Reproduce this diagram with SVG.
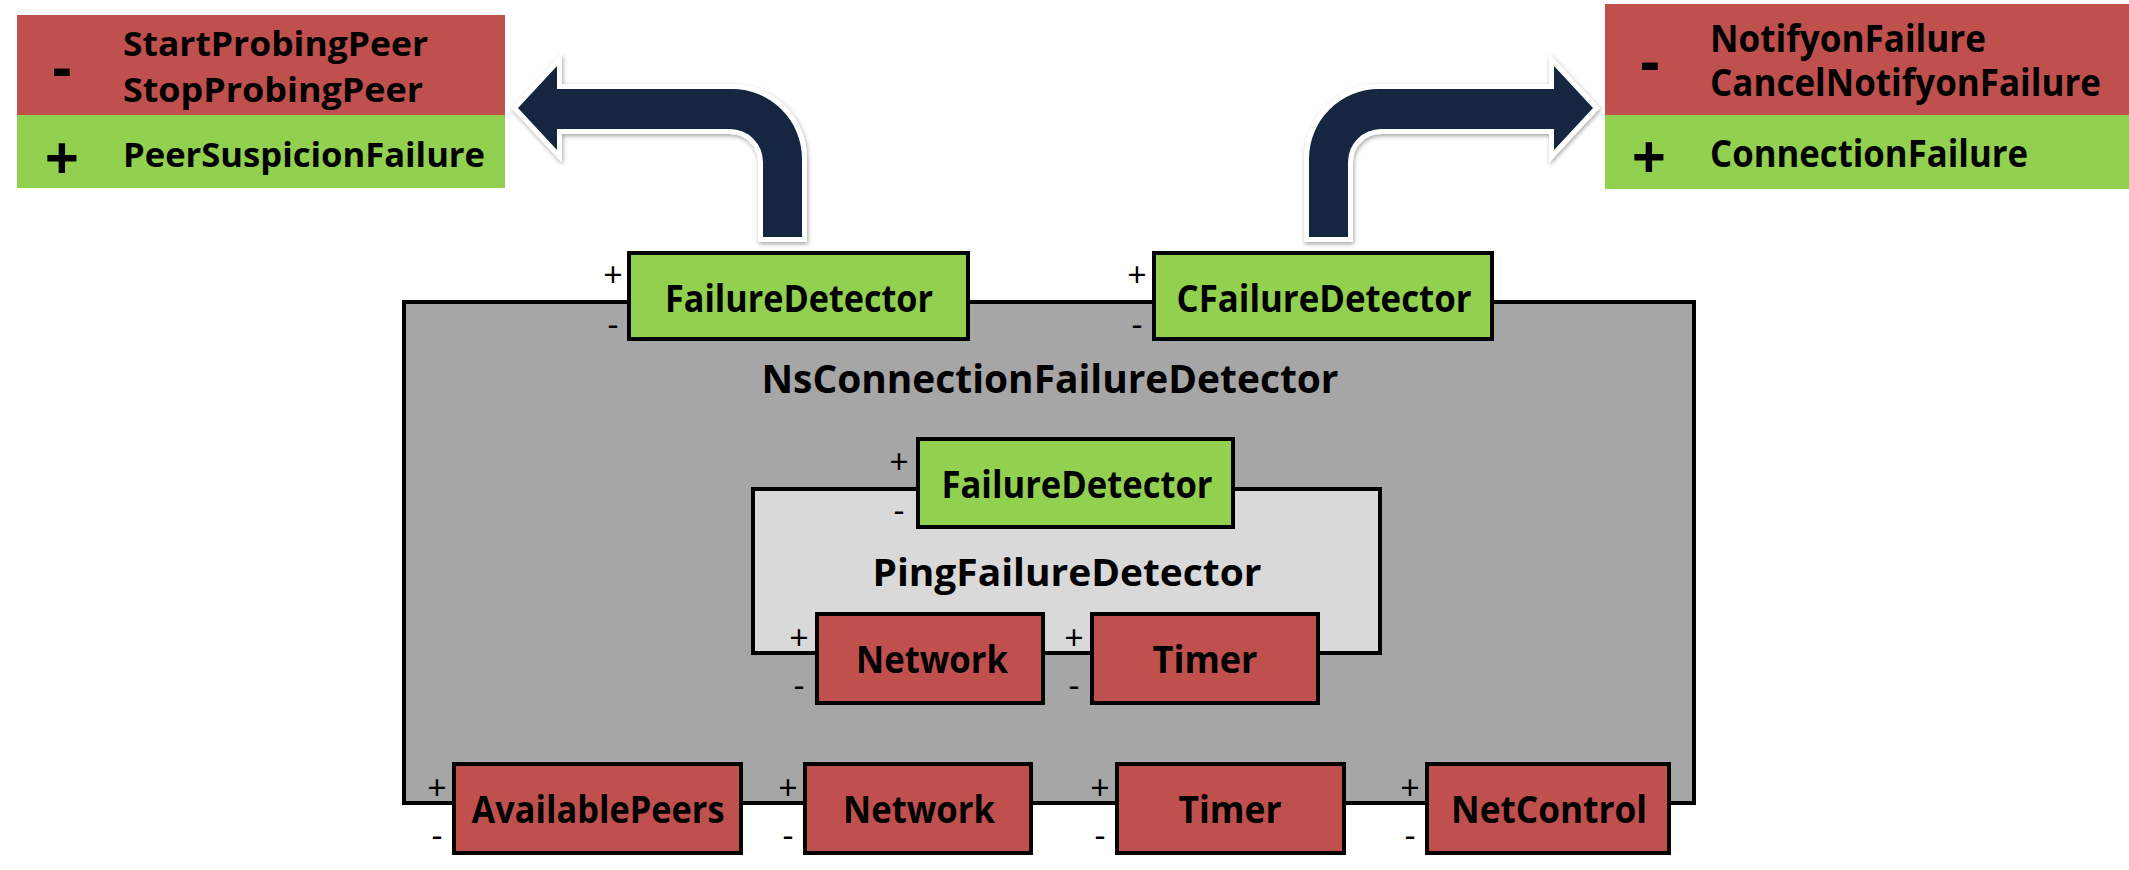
<svg xmlns="http://www.w3.org/2000/svg" width="2129" height="870" viewBox="0 0 2129 870">
<defs>
<style>
.lbl{font-family:"Open Sans","Noto Sans","DejaVu Sans",sans-serif;font-weight:bold;fill:#000;}
.port{font-family:"Open Sans","Noto Sans","DejaVu Sans",sans-serif;font-weight:normal;font-size:34px;fill:#000;text-anchor:middle;}
.sign{font-family:"Open Sans","Noto Sans","DejaVu Sans",sans-serif;font-weight:bold;font-size:60px;fill:#000;text-anchor:middle;}
.red{fill:#C0504D;}
.green{fill:#92D050;}
.box{stroke:#000;stroke-width:4;}
.arrow{fill:#132640;stroke:#fff;stroke-width:10;paint-order:stroke;stroke-linejoin:miter;filter:url(#sh);}
</style>
<filter id="sh" x="-10%" y="-10%" width="130%" height="130%">
<feDropShadow dx="1" dy="2" stdDeviation="2" flood-color="#000" flood-opacity="0.35"/>
</filter>
</defs>
<rect width="2129" height="870" fill="#fff"/>

<g id="legend-left">
<rect class="red" x="17" y="15" width="488" height="100"/>
<rect class="green" x="17" y="115" width="488" height="73"/>
<text class="sign" x="62" y="89">-</text>
<text class="lbl" x="123" y="56" font-size="34" textLength="305" lengthAdjust="spacingAndGlyphs">StartProbingPeer</text>
<text class="lbl" x="123" y="102" font-size="34" textLength="300" lengthAdjust="spacingAndGlyphs">StopProbingPeer</text>
<text class="sign" x="62" y="180">+</text>
<text class="lbl" x="123" y="167" font-size="34" textLength="362" lengthAdjust="spacingAndGlyphs">PeerSuspicionFailure</text>
</g>

<g id="legend-right">
<rect class="red" x="1605" y="4" width="524" height="111"/>
<rect class="green" x="1605" y="115" width="524" height="74"/>
<text class="sign" x="1650" y="83">-</text>
<text class="lbl" x="1710" y="52" font-size="37" textLength="276" lengthAdjust="spacingAndGlyphs">NotifyonFailure</text>
<text class="lbl" x="1710" y="96" font-size="37" textLength="391" lengthAdjust="spacingAndGlyphs">CancelNotifyonFailure</text>
<text class="sign" x="1649" y="179">+</text>
<text class="lbl" x="1710" y="167" font-size="37" textLength="318" lengthAdjust="spacingAndGlyphs">ConnectionFailure</text>
</g>

<g id="connectors">
<path class="arrow" d="M 763,237 L 763,162 A 33,33 0 0 0 730,129 L 557,129 L 557,150 L 518,108 L 557,66 L 557,89 L 732,89 A 70,70 0 0 1 802,159 L 802,237 Z"/>
<path class="arrow" d="M 1348,237 L 1348,162 A 33,33 0 0 1 1381,129 L 1554,129 L 1554,150 L 1593,108 L 1554,66 L 1554,89 L 1379,89 A 70,70 0 0 0 1309,159 L 1309,237 Z"/>
</g>

<g id="NsConnectionFailureDetector">
<rect class="box" x="404" y="302" width="1290" height="501" fill="#A6A6A6"/>
<text class="lbl" x="1050" y="393" font-size="39" text-anchor="middle" textLength="577" lengthAdjust="spacingAndGlyphs">NsConnectionFailureDetector</text>
</g>

<g id="PingFailureDetector">
<rect class="box" x="753" y="489" width="627" height="164" fill="#D9D9D9"/>
<text class="lbl" x="1067" y="586" font-size="37" text-anchor="middle" textLength="389" lengthAdjust="spacingAndGlyphs">PingFailureDetector</text>
</g>

<g id="port-FailureDetector-outer">
<rect class="box green" x="629" y="253" width="339" height="86"/>
<text class="lbl" x="799" y="312" font-size="37" text-anchor="middle" textLength="268" lengthAdjust="spacingAndGlyphs">FailureDetector</text>
<text class="port" x="613" y="287">+</text>
<text class="port" x="613" y="336">-</text>
</g>

<g id="port-CFailureDetector">
<rect class="box green" x="1154" y="253" width="338" height="86"/>
<text class="lbl" x="1324" y="312" font-size="37" text-anchor="middle" textLength="295" lengthAdjust="spacingAndGlyphs">CFailureDetector</text>
<text class="port" x="1137" y="287">+</text>
<text class="port" x="1137" y="336">-</text>
</g>

<g id="port-FailureDetector-inner">
<rect class="box green" x="918" y="439" width="315" height="88"/>
<text class="lbl" x="1077" y="498" font-size="37" text-anchor="middle" textLength="271" lengthAdjust="spacingAndGlyphs">FailureDetector</text>
<text class="port" x="899" y="474">+</text>
<text class="port" x="899" y="522">-</text>
</g>

<g id="port-Network-inner">
<rect class="box red" x="817" y="614" width="226" height="89"/>
<text class="lbl" x="932" y="673" font-size="37" text-anchor="middle" textLength="152" lengthAdjust="spacingAndGlyphs">Network</text>
<text class="port" x="799" y="650">+</text>
<text class="port" x="799" y="697">-</text>
</g>

<g id="port-Timer-inner">
<rect class="box red" x="1092" y="614" width="226" height="89"/>
<text class="lbl" x="1205" y="673" font-size="37" text-anchor="middle" textLength="105" lengthAdjust="spacingAndGlyphs">Timer</text>
<text class="port" x="1074" y="650">+</text>
<text class="port" x="1074" y="697">-</text>
</g>

<g id="port-AvailablePeers">
<rect class="box red" x="454" y="764" width="287" height="89"/>
<text class="lbl" x="598" y="823" font-size="37" text-anchor="middle" textLength="253" lengthAdjust="spacingAndGlyphs">AvailablePeers</text>
<text class="port" x="437" y="800">+</text>
<text class="port" x="437" y="847">-</text>
</g>

<g id="port-Network">
<rect class="box red" x="805" y="764" width="226" height="89"/>
<text class="lbl" x="919" y="823" font-size="37" text-anchor="middle" textLength="152" lengthAdjust="spacingAndGlyphs">Network</text>
<text class="port" x="788" y="800">+</text>
<text class="port" x="788" y="847">-</text>
</g>

<g id="port-Timer">
<rect class="box red" x="1117" y="764" width="227" height="89"/>
<text class="lbl" x="1230" y="823" font-size="37" text-anchor="middle" textLength="103" lengthAdjust="spacingAndGlyphs">Timer</text>
<text class="port" x="1100" y="800">+</text>
<text class="port" x="1100" y="847">-</text>
</g>

<g id="port-NetControl">
<rect class="box red" x="1427" y="764" width="242" height="89"/>
<text class="lbl" x="1549" y="823" font-size="37" text-anchor="middle" textLength="196" lengthAdjust="spacingAndGlyphs">NetControl</text>
<text class="port" x="1410" y="800">+</text>
<text class="port" x="1410" y="847">-</text>
</g>
</svg>
